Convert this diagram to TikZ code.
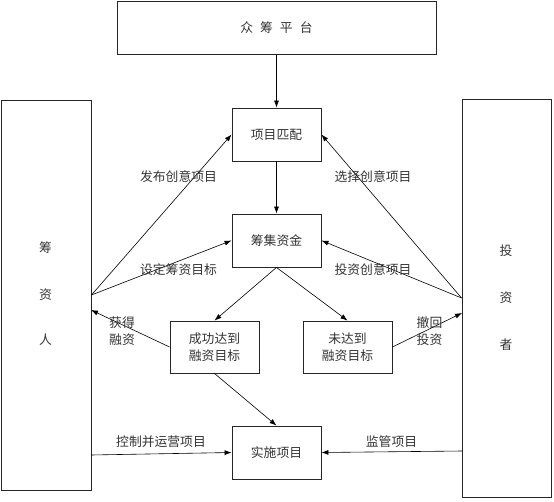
\documentclass[tikz,border=0pt]{standalone}
\usepackage{fontspec}
\setmainfont{Noto Sans CJK SC}
\usetikzlibrary{arrows.meta}
\begin{document}
\begin{tikzpicture}[x=1pt,y=-1pt,
  txt/.style={inner sep=0pt, align=center, text=black!80, font=\fontsize{12.8}{16.5}\selectfont},
  box/.style={txt, draw=black!85, line width=0.9pt},
  arr/.style={-{Latex[length=7pt,width=5pt]}, line width=0.6pt, draw=black}]
\useasboundingbox (0,0) rectangle (554,501);
% boxes
\node[box, minimum width=319pt, minimum height=53pt] (plat) at (276.5,28) {众\hspace{7pt}筹\hspace{7pt}平\hspace{7pt}台};
\node[box, minimum width=89pt, minimum height=53pt] (match) at (276.5,134.5) {项目匹配};
\node[box, minimum width=89pt, minimum height=53pt] (raise) at (276.5,240.5) {筹集资金};
\node[box, minimum width=89pt, minimum height=52pt] (succ) at (214.5,347) {成功达到\\融资目标};
\node[box, minimum width=89pt, minimum height=52pt] (fail) at (347.5,347) {未达到\\融资目标};
\node[box, minimum width=89pt, minimum height=53pt] (impl) at (276.5,452.5) {实施项目};
\node[box, minimum width=90pt, minimum height=390pt] (fund) at (46,295) {};
\node[box, minimum width=89pt, minimum height=398pt] (inv) at (506.5,298) {};
% vertical labels
\node[txt] (f1) at (45.5,248) {筹};
\node[txt] (f2) at (45.5,295) {资};
\node[txt] (f3) at (45.5,340) {人};
\node[txt] (i1) at (506,251) {投};
\node[txt] (i2) at (506,298) {资};
\node[txt] (i3) at (506,345) {者};
% free ends
\coordinate (fin) at (91,310);
\coordinate (fout) at (91,455);
\coordinate (iin) at (462,313);
\coordinate (iout) at (462,451);
% connectors
\draw[arr] (plat) -- (match);
\draw[arr] (match) -- (raise);
\draw[arr] (raise.south) -- (succ.north);
\draw[arr] (raise.south) -- (fail.north);
\draw[arr] (succ.south) -- (impl.north);
\draw[arr] (fund.east) -- (match.west);
\draw[arr] (fund.east) -- (raise.west);
\draw[arr] (inv.west) -- (match.east);
\draw[arr] (inv.west) -- (raise.east);
\draw[arr] (succ.west) -- (fin);
\draw[arr] (fail.east) -- (iin);
\draw[arr] (fout) -- (impl.west);
\draw[arr] (iout) -- (impl.east);
% labels
\node[txt] (l1) at (178.5,177) {发布创意项目};
\node[txt] (l2) at (178.5,270) {设定筹资目标};
\node[txt] (l3) at (373,177) {选择创意项目};
\node[txt] (l4) at (373,270) {投资创意项目};
\node[txt] (l5) at (122,331) {获得\\融资};
\node[txt] (l6) at (429.5,331) {撤回\\投资};
\node[txt] (l7) at (161,442) {控制并运营项目};
\node[txt] (l8) at (391.5,442) {监管项目};
\end{tikzpicture}
\end{document}
